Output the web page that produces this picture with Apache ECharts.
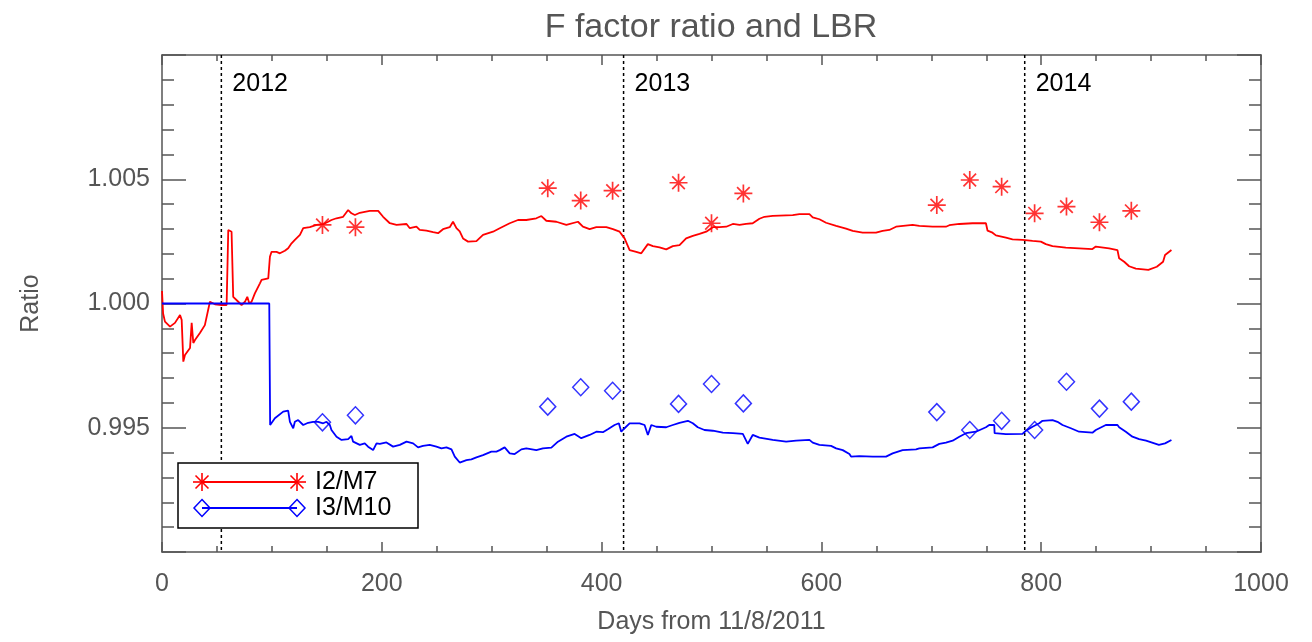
<!DOCTYPE html>
<html>
<head>
<meta charset="utf-8">
<script src="https://cdn.jsdelivr.net/npm/echarts@6/dist/echarts.min.js"></script>
<style>html,body{margin:0;padding:0;background:#fff;}#c{width:1312px;height:642px;}</style>
</head>
<body>
<div id="c"></div>
<script>
// ---- data ----
const titleText = 'F factor ratio and LBR';
const xName = 'Days from 11/8/2011';
const yName = 'Ratio';
const yearNames = ['2012', '2013', '2014'];
const yearDays = [54, 420, 785];
const seriesNames = ['I2/M7', 'I3/M10'];

const redLineDays = [0,1,2.7,7.3,11.8,16.4,17.9,19.4,20.9,25.5,27,28.5,30,34.5,39,43.6,48.2,54.2,58.8,60.3,63.3,64.8,69.4,72.4,75.5,77.6,79.4,81.5,84.5,89.1,90.6,96.7,98.2,99.7,104.2,107.3,111.8,114.8,117.9,119.4,120.9,125.5,128.5,134.5,140.6,146.7,151.2,154.2,158.8,164.8,169.4,172.4,175.5,180,184.5,189.1,196.7,201.2,207.3,213.4,222.5,225.5,231.5,234.5,240.6,246.7,251.2,255.7,261.8,264.8,267.9,270.9,273.9,278.5,286.1,292.1,301.2,307.3,316.4,323.9,331.5,340.6,345.2,349.7,358.8,367.9,378.5,383,389.1,395.2,404.3,410.3,416.4,417.9,420.9,425.5,431.5,436.1,442.1,446.7,452.7,458.8,464.8,470.9,476.9,483,489.1,495.2,501.2,507.3,513.4,519.4,525.5,531.5,537.5,543.6,548.2,555.7,573.9,580,589.1,592.1,598.2,604.2,613.4,622.4,628.5,637.5,649.7,655.7,661.8,667.9,683,689.1,701.2,713.3,716.4,725.5,737.5,749.7,751.2,755.7,758.8,767.9,773.9,783,792.1,799.7,804.2,810.3,822.4,834.5,846.6,849.7,861.8,869.4,870.9,875.5,880,886.1,897.5,905.2,910.9,912.7,918.5];
const redLineValues = [1.00050,0.99960,0.99927,0.99907,0.99922,0.99954,0.99934,0.99766,0.99793,0.99821,0.99922,0.99841,0.99853,0.99881,0.99913,1.00007,0.99997,0.99994,0.99994,1.00296,1.00289,1.00027,1.00007,0.99994,1.00007,1.00027,1.00001,1.00007,1.00041,1.00081,1.00095,1.00101,1.00188,1.00208,1.00208,1.00202,1.00212,1.00222,1.00242,1.00249,1.00256,1.00276,1.00303,1.00307,1.00316,1.00319,1.00329,1.00336,1.00343,1.00349,1.00376,1.00363,1.00356,1.00365,1.00369,1.00373,1.00373,1.00349,1.00323,1.00316,1.00320,1.00303,1.00309,1.00296,1.00293,1.00287,1.00283,1.00299,1.00307,1.00329,1.00303,1.00290,1.00262,1.00249,1.00251,1.00276,1.00289,1.00303,1.00323,1.00336,1.00336,1.00343,1.00352,1.00333,1.00329,1.00316,1.00329,1.00309,1.00299,1.00307,1.00307,1.00299,1.00289,1.00296,1.00262,1.00215,1.00208,1.00202,1.00239,1.00231,1.00226,1.00218,1.00231,1.00235,1.00262,1.00272,1.00280,1.00289,1.00307,1.00307,1.00309,1.00320,1.00316,1.00320,1.00323,1.00341,1.00349,1.00353,1.00356,1.00360,1.00360,1.00347,1.00339,1.00325,1.00312,1.00301,1.00292,1.00285,1.00285,1.00292,1.00296,1.00309,1.00316,1.00312,1.00309,1.00309,1.00315,1.00320,1.00323,1.00323,1.00293,1.00285,1.00274,1.00265,1.00258,1.00256,1.00252,1.00249,1.00239,1.00231,1.00225,1.00222,1.00219,1.00229,1.00222,1.00215,1.00182,1.00168,1.00150,1.00140,1.00135,1.00148,1.00168,1.00195,1.00215];

const blueLineDays = [0,97.6,98.4,99.7,102.7,110.3,114.8,116.4,119.4,120.9,123.9,128.5,133,137.5,142.1,146.7,149.7,152.7,154.2,158.8,163.4,169.4,172.4,173.9,180,184.5,187.5,192.1,195.2,198.2,204.2,210.3,216.4,222.5,228.5,233,237.5,243.6,249.7,254.3,258.8,263.4,266.4,270.9,277,281.5,286.1,292.1,299.7,304.3,307.3,311.8,316.4,320.9,327,331.5,340.6,346.6,354.3,360.3,367.9,375.5,381.5,389.1,395.2,401.2,405.7,411.8,415.7,417.9,420.9,425.5,434.5,439.1,442.1,445.2,449.7,458.8,464.8,470.9,478.5,483,487.5,493.6,501.2,510.3,519.4,528.5,533,537.5,543.6,555.7,567.9,577,589.1,592.1,598.2,608.8,613.4,619.4,625.5,627,634.5,646.7,658.8,664.8,673.9,686.1,689.1,701.2,707.3,713.3,719.4,725.5,731.5,740.6,749.7,752.7,757.3,757.6,767.9,783,786.1,792.1,798.2,801.2,810.3,814.8,819.4,827,834.5,846.6,849.7,858.8,869.4,870.9,877,883,889.1,895.4,907.1,912.7,918.5];
const blueLineValues = [1.00000,1.00000,0.99511,0.99518,0.99538,0.99565,0.99569,0.99524,0.99498,0.99524,0.99531,0.99511,0.99520,0.99524,0.99524,0.99518,0.99524,0.99511,0.99491,0.99464,0.99451,0.99454,0.99467,0.99444,0.99431,0.99437,0.99424,0.99410,0.99437,0.99435,0.99441,0.99424,0.99431,0.99444,0.99437,0.99421,0.99427,0.99431,0.99424,0.99417,0.99421,0.99413,0.99384,0.99360,0.99370,0.99373,0.99381,0.99390,0.99404,0.99404,0.99410,0.99421,0.99397,0.99394,0.99413,0.99417,0.99410,0.99417,0.99420,0.99444,0.99464,0.99475,0.99458,0.99471,0.99484,0.99482,0.99494,0.99511,0.99518,0.99484,0.99498,0.99518,0.99518,0.99511,0.99471,0.99511,0.99504,0.99502,0.99511,0.99520,0.99528,0.99518,0.99502,0.99491,0.99488,0.99480,0.99478,0.99475,0.99435,0.99471,0.99460,0.99451,0.99444,0.99448,0.99451,0.99440,0.99431,0.99427,0.99417,0.99410,0.99394,0.99384,0.99386,0.99384,0.99384,0.99397,0.99410,0.99413,0.99417,0.99421,0.99435,0.99440,0.99448,0.99464,0.99478,0.99484,0.99502,0.99511,0.99511,0.99478,0.99474,0.99475,0.99488,0.99504,0.99518,0.99528,0.99531,0.99524,0.99511,0.99498,0.99484,0.99480,0.99491,0.99511,0.99511,0.99502,0.99484,0.99464,0.99454,0.99448,0.99431,0.99437,0.99451];

const pointDays = [146,176,351,381,410,470,500,529,705,735,764,794,823,853,882];
const redPointValues = [1.00316,1.00307,1.00464,1.00414,1.00454,1.00486,1.00323,1.00443,1.00396,1.00497,1.00470,1.00363,1.00390,1.00327,1.00373];
const bluePointValues = [0.99522,0.99550,0.99585,0.99663,0.99649,0.99596,0.99676,0.99598,0.99563,0.99491,0.99528,0.99491,0.99685,0.99577,0.99605];

const xTicks = {min: 0, max: 1000, interval: 200};
const yTicks = {min: 0.990, max: 1.010, interval: 0.005};

// ---- chart ----
const FONT = 'Liberation Sans';
const AX = '#555555';
const RED = '#ff0000';
const BLUE = '#0000ff';
const LW = 1.8;
const zip = (a, b) => a.map((v, i) => [v, b[i]]);
const starPath = 'path://M10 0L10 20M0 10L20 10M3 3L17 17M3 17L17 3';

function axisCommon(extra) {
  return Object.assign({
    axisLine: {show: true, onZero: false, lineStyle: {color: AX, width: 1.5}},
    splitLine: {show: false},
    minorSplitLine: {show: false}
  }, extra);
}

const xAxisBase = {type: 'value', min: xTicks.min, max: xTicks.max, interval: xTicks.interval};
const yAxisBase = {type: 'value', min: yTicks.min, max: yTicks.max, interval: yTicks.interval};

function star(cx, cy, r, color) {
  const d = r * 0.72;
  return [[0, -r, 0, r], [-r, 0, r, 0], [-d, -d, d, d], [-d, d, d, -d]].map(s => ({
    type: 'line', shape: {x1: cx + s[0], y1: cy + s[1], x2: cx + s[2], y2: cy + s[3]},
    style: {stroke: color, lineWidth: 1.6}, z: 100
  }));
}
function diamond(cx, cy, w, h, color) {
  return {type: 'polygon', shape: {points: [[cx, cy - h / 2], [cx + w / 2, cy], [cx, cy + h / 2], [cx - w / 2, cy]]},
    style: {fill: 'none', stroke: color, lineWidth: 1.5}, z: 100};
}

const chart = echarts.init(document.getElementById('c'), null, {renderer: 'canvas'});
const option = {
  animation: false,
  backgroundColor: '#ffffff',
  textStyle: {fontFamily: FONT},
  grid: {left: 162, right: 51, top: 55, bottom: 90, containLabel: false},
  xAxis: [
    axisCommon(Object.assign({}, xAxisBase, {
      position: 'bottom',
      name: xName, nameLocation: 'middle', nameGap: 58,
      nameTextStyle: {color: AX, fontSize: 25, fontFamily: FONT},
      axisTick: {show: true, inside: true, length: 10, lineStyle: {color: AX, width: 1.5}},
      minorTick: {show: true, splitNumber: 4, length: 6, lineStyle: {color: AX, width: 1.5}},
      axisLabel: {color: AX, fontSize: 25, fontFamily: FONT, margin: 20, formatter: v => String(v)}
    })),
    axisCommon(Object.assign({}, xAxisBase, {
      position: 'top',
      axisTick: {show: true, inside: true, length: 10, lineStyle: {color: AX, width: 1.5}},
      minorTick: {show: true, splitNumber: 4, length: 6, lineStyle: {color: AX, width: 1.5}},
      axisLabel: {show: false}
    }))
  ],
  yAxis: [
    axisCommon(Object.assign({}, yAxisBase, {
      position: 'left',
      name: yName, nameLocation: 'middle', nameGap: 118, nameRotate: 90,
      nameTextStyle: {color: AX, fontSize: 25, fontFamily: FONT},
      axisTick: {show: true, inside: true, length: 24, lineStyle: {color: AX, width: 1.5}},
      minorTick: {show: true, splitNumber: 5, length: 12, lineStyle: {color: AX, width: 1.5}},
      axisLabel: {color: AX, fontSize: 25, fontFamily: FONT, margin: 12,
        formatter: v => (Math.abs(v - yTicks.min) < 1e-6 || Math.abs(v - yTicks.max) < 1e-6) ? '' : v.toFixed(3)}
    })),
    axisCommon(Object.assign({}, yAxisBase, {
      position: 'right',
      axisTick: {show: true, inside: true, length: 24, lineStyle: {color: AX, width: 1.5}},
      minorTick: {show: true, splitNumber: 5, length: 12, lineStyle: {color: AX, width: 1.5}},
      axisLabel: {show: false}
    }))
  ],
  graphic: [
    {type: 'text', x: 711, y: 28, style: {text: titleText, fill: AX, font: '34px ' + FONT, align: 'center', verticalAlign: 'middle'}},
    {type: 'group', children: [
      {type: 'rect', shape: {x: 178, y: 463, width: 240, height: 65}, style: {fill: '#fff', stroke: '#000', lineWidth: 1.5}, z: 99},
      {type: 'line', shape: {x1: 202, y1: 482, x2: 297, y2: 482}, style: {stroke: RED, lineWidth: LW}, z: 100},
      ...star(202, 482, 9, RED), ...star(297, 482, 9, RED),
      {type: 'text', x: 315, y: 482, style: {text: seriesNames[0], fill: '#000', font: '25px ' + FONT, verticalAlign: 'middle'}, z: 100},
      {type: 'line', shape: {x1: 202, y1: 508, x2: 297, y2: 508}, style: {stroke: BLUE, lineWidth: LW}, z: 100},
      diamond(202, 508, 16, 17, BLUE), diamond(297, 508, 16, 17, BLUE),
      {type: 'text', x: 315, y: 508, style: {text: seriesNames[1], fill: '#000', font: '25px ' + FONT, verticalAlign: 'middle'}, z: 100}
    ]}
  ],
  series: [
    {
      type: 'custom', name: 'years', silent: true, z: 1,
      data: yearDays.map(d => [d]),
      renderItem: function (params, api) {
        const cs = params.coordSys;
        const x = api.coord([api.value(0), yTicks.min])[0];
        return {type: 'group', children: [
          {type: 'line', shape: {x1: x, y1: cs.y, x2: x, y2: cs.y + cs.height},
            style: {stroke: '#000', lineWidth: 1.5, lineDash: [3, 3]}},
          {type: 'text', x: x + 11, y: cs.y + 29,
            style: {text: yearNames[params.dataIndex], fill: '#000', font: '25px ' + FONT, verticalAlign: 'middle'}}
        ]};
      }
    },
    {type: 'line', name: seriesNames[0], data: zip(redLineDays, redLineValues), showSymbol: false, symbol: 'none',
      lineStyle: {color: RED, width: LW}, z: 3},
    {type: 'line', name: seriesNames[1], data: zip(blueLineDays, blueLineValues), showSymbol: false, symbol: 'none',
      lineStyle: {color: BLUE, width: LW}, z: 3},
    {type: 'scatter', name: seriesNames[0] + ' pts', data: zip(pointDays, redPointValues), symbol: starPath, symbolSize: 18,
      itemStyle: {color: 'rgba(0,0,0,0)', borderColor: RED, borderWidth: 1.7}, z: 4},
    {type: 'scatter', name: seriesNames[1] + ' pts', data: zip(pointDays, bluePointValues), symbol: 'diamond', symbolSize: [16, 17],
      itemStyle: {color: 'rgba(0,0,0,0)', borderColor: BLUE, borderWidth: 1.5}, z: 4}
  ]
};
chart.setOption(option);
</script>
</body>
</html>
